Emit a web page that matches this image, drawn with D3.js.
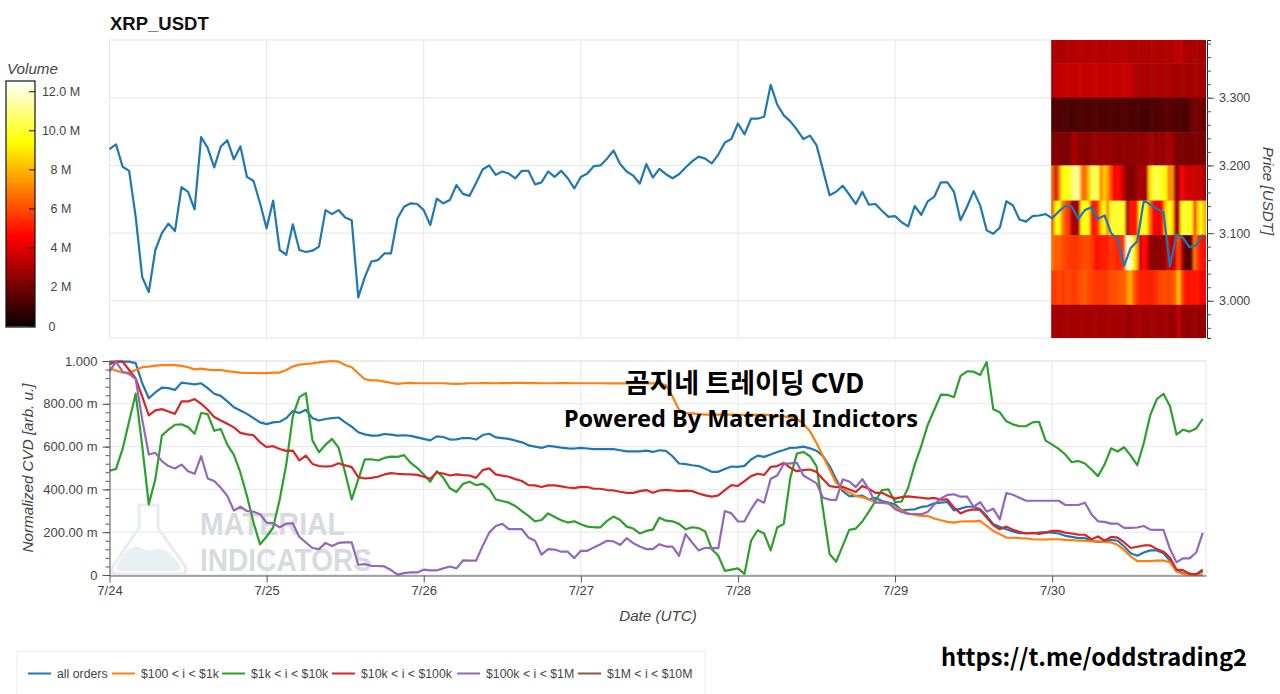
<!DOCTYPE html>
<html>
<head>
<meta charset="utf-8">
<script src="https://cdn.jsdelivr.net/npm/d3@7"></script>
<style>
  html, body { margin: 0; padding: 0; background: #fff; }
  svg { display: block; }
  text { font-family: "Liberation Sans", Arial, sans-serif; }
  .tick text { fill: #444; font-size: 12.5px; }
  .cvdAxis .tick text, .dateAxis .tick text { font-size: 13px; }
  .label { fill: #444; font-size: 15.2px; font-style: italic; }
  .banner { fill: #000; font-family: "Noto Sans CJK KR", "Noto Sans", sans-serif; font-weight: 700; }
  .bannerLatin { fill: #000; font-family: "Noto Sans", sans-serif; font-weight: 700; }
</style>
</head>
<body>
<svg id="chart" width="1280" height="694"></svg>
<script>
// --- data ---
var dayLabels = ["7/24", "7/25", "7/26", "7/27", "7/28", "7/29", "7/30"];
var priceTicks = [3.0, 3.1, 3.2, 3.3];
var cvdTicks = [0, 0.2, 0.4, 0.6, 0.8, 1.0];
var cvdTickLabels = ["0", "200.00 m", "400.00 m", "600.00 m", "800.00 m", "1.000"];
var volumeTicks = [0, 2, 4, 6, 8, 10, 12];
var volumeTickLabels = ["0", "2 M", "4 M", "6 M", "8 M", "10.0 M", "12.0 M"];
var seriesNames = ["all orders", "$100 < i < $1k", "$1k < i < $10k", "$10k < i < $100k", "$100k < i < $1M", "$1M < i < $10M"];

// hourly close, USDT
var price = [
  3.224,3.231,3.198,3.192,3.124,3.035,3.013,3.075,3.100,3.114,3.103,3.168,
  3.161,3.135,3.242,3.226,3.197,3.228,3.237,3.209,3.228,3.183,3.177,3.144,
  3.107,3.148,3.075,3.068,3.113,3.075,3.072,3.074,3.080,3.134,3.128,3.134,
  3.123,3.119,3.005,3.035,3.058,3.060,3.070,3.070,3.122,3.139,3.144,3.143,
  3.134,3.112,3.151,3.144,3.149,3.171,3.158,3.155,3.174,3.194,3.200,3.186,
  3.191,3.188,3.181,3.192,3.192,3.172,3.175,3.191,3.183,3.192,3.181,3.166,
  3.183,3.188,3.199,3.200,3.210,3.222,3.202,3.191,3.185,3.173,3.202,3.182,
  3.195,3.187,3.181,3.187,3.197,3.206,3.213,3.210,3.203,3.216,3.234,3.239,
  3.262,3.246,3.269,3.269,3.272,3.319,3.290,3.274,3.265,3.253,3.239,3.244,
  3.230,3.193,3.156,3.161,3.170,3.157,3.143,3.161,3.142,3.143,3.133,3.124,
  3.125,3.116,3.110,3.140,3.127,3.147,3.154,3.175,3.175,3.161,3.119,3.139,
  3.162,3.141,3.104,3.099,3.108,3.147,3.141,3.120,3.117,3.125,3.126,3.128,
  3.122,3.132,3.140,3.139,3.121,3.134,3.138,3.121,3.126,3.100,3.091,3.052,
  3.078,3.088,3.148,3.142,3.136,3.131,3.051,3.098,3.093,3.079,3.082,3.098
];

// normalized cvd per order size bucket
var cvdAll = [
  .997,.997,.997,.997,.990,.896,.826,.853,.876,.873,.865,.899,
  .895,.891,.896,.873,.847,.837,.811,.784,.769,.753,.733,.713,
  .705,.713,.716,.733,.766,.757,.772,.733,.722,.729,.733,.736,
  .713,.693,.667,.657,.651,.651,.659,.656,.651,.653,.650,.643,
  .636,.629,.648,.645,.633,.634,.640,.640,.633,.654,.660,.643,
  .640,.636,.628,.620,.606,.600,.594,.603,.600,.595,.592,.591,
  .594,.591,.588,.588,.588,.588,.583,.578,.578,.578,.581,.575,
  .583,.580,.555,.521,.518,.513,.509,.496,.482,.482,.495,.507,
  .505,.510,.540,.558,.552,.563,.575,.584,.594,.595,.600,.592,
  .581,.555,.509,.447,.392,.369,.369,.371,.353,.361,.346,.338,
  .330,.302,.305,.307,.318,.322,.335,.338,.341,.302,.310,.319,
  .319,.307,.276,.237,.225,.214,.203,.195,.195,.195,.198,.200,
  .198,.194,.183,.178,.172,.172,.161,.155,.155,.164,.160,.133,
  .102,.090,.105,.115,.115,.102,.067,.020,.009,.006,.003,.016
];
var cvd100to1k = [
  .966,.955,.946,.946,.958,.971,.974,.978,.981,.981,.981,.977,
  .971,.961,.964,.960,.957,.958,.953,.949,.946,.944,.944,.943,
  .943,.946,.946,.958,.974,.983,.986,.989,.994,.997,1.0,.997,
  .981,.971,.943,.915,.909,.909,.904,.898,.893,.896,.898,.896,
  .896,.896,.896,.896,.894,.893,.894,.896,.896,.897,.897,.896,
  .897,.897,.898,.898,.897,.897,.896,.896,.896,.897,.897,.896,
  .896,.896,.896,.896,.895,.895,.895,.895,.896,.896,.895,.895,
  .895,.888,.834,.772,.757,.755,.752,.749,.749,.749,.750,.749,
  .748,.748,.748,.748,.749,.746,.744,.741,.736,.729,.707,.671,
  .617,.555,.493,.431,.403,.385,.369,.364,.353,.341,.338,.332,
  .318,.301,.288,.281,.276,.276,.264,.256,.248,.245,.250,.251,
  .251,.253,.229,.206,.191,.175,.174,.172,.171,.167,.166,.166,
  .167,.167,.164,.163,.160,.160,.157,.157,.155,.152,.141,.116,
  .087,.065,.065,.065,.067,.068,.059,.016,.005,0,0,0
];
var cvd1kto10k = [
  .487,.496,.589,.718,.847,.602,.330,.447,.651,.679,.702,.704,
  .691,.660,.757,.752,.674,.682,.609,.561,.478,.369,.245,.143,
  .180,.222,.353,.516,.741,.831,.850,.629,.574,.609,.636,.594,
  .478,.353,.447,.540,.541,.535,.547,.553,.552,.560,.524,.501,
  .470,.436,.485,.454,.405,.388,.426,.436,.420,.426,.403,.353,
  .346,.338,.322,.299,.276,.251,.257,.288,.271,.256,.245,.251,
  .237,.226,.223,.223,.253,.273,.257,.226,.217,.194,.206,.212,
  .268,.254,.251,.239,.214,.223,.219,.203,.121,.090,.019,.025,
  .031,.005,.160,.209,.194,.115,.222,.239,.454,.567,.575,.555,
  .509,.307,.098,.062,.136,.211,.217,.250,.296,.346,.397,.400,
  .341,.343,.408,.516,.602,.702,.772,.843,.842,.831,.930,.952,
  .950,.935,.995,.775,.760,.718,.704,.695,.695,.713,.716,.628,
  .609,.589,.563,.527,.533,.521,.493,.462,.516,.592,.577,.597,
  .558,.513,.617,.749,.822,.847,.788,.656,.679,.670,.684,.730
];
var cvd10kto100k = [
  .985,.997,.997,.958,.919,.834,.746,.769,.775,.764,.753,.811,
  .811,.822,.800,.772,.738,.722,.707,.690,.664,.657,.653,.620,
  .598,.602,.589,.580,.581,.536,.558,.519,.509,.507,.509,.522,
  .512,.504,.457,.451,.454,.459,.470,.476,.473,.471,.470,.468,
  .459,.450,.479,.474,.465,.470,.467,.465,.454,.490,.498,.470,
  .464,.459,.448,.439,.420,.419,.411,.419,.419,.414,.409,.406,
  .412,.411,.403,.403,.397,.395,.389,.384,.384,.392,.397,.384,
  .395,.398,.395,.392,.394,.392,.381,.372,.366,.372,.397,.420,
  .416,.439,.462,.473,.468,.505,.509,.524,.501,.485,.490,.493,
  .482,.447,.416,.411,.412,.400,.388,.416,.403,.384,.384,.369,
  .357,.364,.367,.364,.361,.357,.360,.352,.353,.315,.288,.301,
  .307,.304,.268,.233,.214,.226,.211,.202,.194,.197,.192,.198,
  .206,.206,.198,.194,.189,.188,.167,.180,.160,.178,.175,.152,
  .126,.132,.138,.138,.121,.109,.082,.025,.023,.005,.003,.025
];
var cvd100kto1m = [
  .950,.997,.950,.940,.915,.726,.563,.571,.532,.509,.498,.516,
  .485,.473,.555,.451,.439,.408,.369,.301,.319,.299,.296,.284,
  .245,.242,.223,.240,.242,.178,.152,.126,.121,.150,.136,.150,
  .152,.152,.048,.051,.043,.042,.040,.023,.002,.009,.012,.012,
  .025,.022,.022,.031,.040,.031,.068,.067,.067,.136,.198,.229,
  .239,.214,.214,.214,.175,.160,.095,.121,.119,.109,.109,.079,
  .113,.113,.129,.144,.160,.157,.140,.172,.149,.133,.121,.121,
  .144,.133,.133,.090,.191,.152,.115,.127,.126,.126,.299,.288,
  .250,.251,.307,.353,.338,.450,.465,.519,.522,.524,.465,.447,
  .428,.361,.352,.350,.447,.437,.411,.448,.400,.338,.338,.338,
  .307,.295,.285,.285,.284,.295,.330,.358,.374,.377,.366,.366,
  .319,.340,.296,.310,.260,.383,.375,.361,.347,.347,.347,.347,
  .347,.347,.327,.327,.327,.338,.284,.251,.248,.240,.240,.220,
  .220,.222,.229,.212,.211,.211,.121,.059,.078,.078,.105,.197
];
var cvd1mto10m = []; // in the legend, nothing drawn

// volume profile: one row per price bin, top row first, values in millions
var binEdges = [3.385, 3.351, 3.300, 3.249, 3.200, 3.148, 3.097, 3.045, 2.994, 2.945];
var heatRow0 = [3.0,3.0,3.0,3.0,3.0,3.2,3.2,3.2,3.2,3.2,3.2,3.2,3.2,3.2,3.2,3.2,3.2,3.2,3.2,3.2,3.2,3.2,3.2,3.2,
  3.1,3.1,3.1,3.1,3.1,3.1,3.1,3.1,3.1,3.1,3.1,3.1,3.1,3.1,3.4,3.4,3.4,3.0,3.0,3.0,3.0,3.0,3.0,3.0];
var heatRow1 = [3.0,3.5,3.5,3.5,3.5,3.5,3.5,3.5,3.5,3.5,3.5,3.5,3.5,3.5,3.5,3.5,3.5,3.5,3.5,3.5,3.5,3.5,3.5,3.5,
  3.5,3.3,3.0,3.0,3.0,3.0,3.0,3.0,3.0,3.0,3.0,3.0,3.0,3.0,2.9,2.9,2.9,2.9,2.9,2.9,2.9,2.9,2.9,2.9];
var heatRow2 = [1.3,1.3,1.3,1.3,1.3,1.2,1.2,1.3,1.3,1.3,1.3,1.3,1.3,1.3,1.3,1.3,1.3,1.3,1.3,1.3,1.3,1.3,1.3,1.3,
  1.3,1.2,1.2,1.2,1.2,1.2,1.2,1.2,1.2,1.4,1.4,1.4,1.4,1.5,1.4,1.3,1.2,1.2,1.3,1.9,1.9,1.9,1.9,1.9];
var heatRow3 = [2.2,2.2,2.2,2.2,2.0,2.0,2.8,3.1,2.4,2.4,2.4,2.4,2.6,2.6,2.6,2.6,2.6,2.6,2.6,2.5,2.5,2.5,2.5,2.5,
  2.5,2.5,2.5,2.5,2.5,2.5,2.9,2.9,2.4,3.0,2.3,2.8,2.9,3.0,2.1,2.1,2.1,2.1,2.1,2.1,2.1,2.1,2.1,2.1];
var heatRow4 = [6.5,3.5,7,9.5,9.5,9.8,10.5,11.5,11,7,6.5,8,10,10.8,10,7,8.5,7.5,6,4.6,4.8,4.4,3.2,2.3,
  2.2,2.2,2.6,3,3,2.8,8.5,9.8,10.5,10,9.6,9.5,7,7.5,2.5,3,4.5,4,3.5,3.8,3.5,3.5,3.8,3];
var heatRow5 = [6.5,9.5,9.5,7,6,5.5,3,2.8,3,9.5,9.8,9.5,5,5,5.5,8.5,9.5,7,9.8,10,10,10,9.8,2.6,
  5,5,5,9.5,10,9.5,7,4.8,4.6,4.5,5,8.5,9.8,9,3,3.2,9.5,10.2,9.8,9.5,5,8.5,9.5,8];
var heatRow6 = [6.8,6.2,6.5,6,5.8,5.6,5.7,5.5,5.7,5.8,6,6,5.8,5,4.9,5.2,5.1,5.2,5.6,5.5,5.2,5.4,5.6,11.8,
  12,9.5,8,3.6,4.8,4.6,2.6,2.4,2.4,2.6,2.4,2.8,4.2,2.8,4.5,6,3.4,1.5,1.3,1.8,6.8,5.6,5,4.8];
var heatRow7 = [5.6,5.7,6,5.6,5.8,6,5.7,5.7,5.9,6.2,6.3,6,5.8,5.6,5.5,5.7,5.6,5.7,6,6.1,6.2,6.3,6.2,7,
  8,6.5,5.6,5.2,5.2,5.3,5.1,5.2,5.4,5.9,5.9,6,5.8,6.2,6.5,8.5,6,5,4.8,5,4.9,5,4.7,4.6];
var heatRow8 = [2.9,2.9,2.9,2.9,2.9,2.9,2.9,2.9,2.9,2.9,2.9,2.9,2.9,2.9,2.9,2.9,2.9,2.9,2.9,2.9,2.9,2.9,2.9,2.6,
  2.6,2.9,2.9,2.9,2.8,2.8,2.8,2.8,2.8,2.8,2.8,2.8,2.7,2.6,2.7,3.6,2.6,2.6,2.6,2.6,2.6,2.6,2.6,2.6];

// --- drawing ---
var svg = d3.select("#chart");
var colors = ["#1f77b4", "#ff7f0e", "#2ca02c", "#d62728", "#9467bd", "#8c564b"];
var gridColor = "#e6e6e6";
var axisColor = "#555";
var lineWidth = 2.2;

var left = 109.5, right = 1206;
var topPanel = {y0: 40, y1: 338};
var botPanel = {y0: 361, y1: 575};

var t0 = Date.UTC(2025, 6, 24);
var hour = 3600 * 1000;
function hourDate(i) { return new Date(t0 + i * hour); }
var dayDates = dayLabels.map(function(d, i) { return hourDate(i * 24); });

var x = d3.scaleUtc().domain([hourDate(0), hourDate(167.5)]).range([left, right]);
var yPrice = d3.scaleLinear().domain([2.945, 3.3853]).range([topPanel.y1, topPanel.y0]);
var yCvd = d3.scaleLinear().domain([0, 1]).range([botPanel.y1, botPanel.y0]);

// matplotlib "hot", stops as seen on the colour bar
var volumeMax = 12.55;
var hot = d3.scaleLinear()
  .domain([0, 0.365 * volumeMax, 0.75 * volumeMax, volumeMax])
  .range(["#0a0000", "#ff0000", "#ffff00", "#ffffff"])
  .clamp(true);

// panel backgrounds: outline + grid
function drawGrid(panel, y, ticks) {
  var g = svg.append("g");
  g.append("rect")
    .attr("x", left).attr("y", panel.y0)
    .attr("width", right - left).attr("height", panel.y1 - panel.y0)
    .attr("fill", "none").attr("stroke", gridColor);
  g.selectAll(".v").data(dayDates).enter().append("line")
    .attr("x1", x).attr("x2", x)
    .attr("y1", panel.y0).attr("y2", panel.y1)
    .attr("stroke", gridColor);
  g.selectAll(".h").data(ticks).enter().append("line")
    .attr("x1", left).attr("x2", right)
    .attr("y1", y).attr("y2", y)
    .attr("stroke", gridColor);
}
drawGrid(topPanel, yPrice, priceTicks);
drawGrid(botPanel, yCvd, cvdTicks);

// material indicators watermark
var mark = svg.append("g");
mark.append("path")
  .attr("d", "M139,505 L158,505 L158,528 L185,566 Q188,574 180,574 L118,574 Q110,574 113,566 L139,528 Z")
  .attr("fill", "none").attr("stroke", "#e9ecee").attr("stroke-width", 3);
mark.append("path")
  .attr("d", "M116,568 Q124,549 136,546 Q147,552 158,549 Q170,548 181,568 Q181,571 176,571 L120,571 Q116,571 116,568 Z")
  .attr("fill", "#e8f0f1");
mark.selectAll("text").data(["MATERIAL", "INDICATORS"]).enter().append("text")
  .attr("x", 200)
  .attr("y", function(d, i) { return i ? 571 : 535; })
  .attr("textLength", function(d, i) { return i ? 172 : 145; })
  .attr("lengthAdjust", "spacingAndGlyphs")
  .attr("font-size", 32)
  .attr("font-weight", 700)
  .attr("fill", "#d7dbe0")
  .text(function(d) { return d; });

// volume heatmap over the last day, softened a little like the source image
var heatLeft = x(hourDate(143.85));
var defs = svg.append("defs");
defs.append("filter").attr("id", "soft")
  .attr("x", "-2%").attr("y", "-2%").attr("width", "104%").attr("height", "104%")
  .append("feGaussianBlur").attr("stdDeviation", "0.8 0.4");
defs.append("clipPath").attr("id", "heatClip").append("rect")
  .attr("x", heatLeft).attr("y", topPanel.y0)
  .attr("width", right - heatLeft).attr("height", topPanel.y1 - topPanel.y0);
var heatRows = [heatRow0, heatRow1, heatRow2, heatRow3, heatRow4, heatRow5, heatRow6, heatRow7, heatRow8];
// one column wider on each side so the blur doesn't fade at the clip edge
var heatX = d3.scaleBand()
  .domain(d3.range(heatRow0.length))
  .range([heatLeft, right]);
var heatG = svg.append("g").attr("clip-path", "url(#heatClip)")
  .append("g").attr("filter", "url(#soft)");
heatRows.forEach(function(row, r) {
  heatG.selectAll(".r" + r).data(row).enter().append("rect")
    .attr("x", function(d, i) { return i == 0 ? heatX(i) - 4 : heatX(i); })
    .attr("width", function(d, i) {
      return heatX.bandwidth() + 0.5 + (i == 0 || i == row.length - 1 ? 4 : 0);
    })
    .attr("y", yPrice(binEdges[r]) - (r == 0 ? 4 : 0))
    .attr("height", yPrice(binEdges[r + 1]) - yPrice(binEdges[r]) + 0.5 + (r == 0 || r == heatRows.length - 1 ? 4 : 0))
    .attr("fill", function(d) { return hot(d); });
});

// price line
var priceLine = d3.line()
  .x(function(d, i) { return x(hourDate(i)); })
  .y(function(d) { return yPrice(d); });
svg.append("path").datum(price)
  .attr("d", priceLine)
  .attr("fill", "none").attr("stroke", colors[0]).attr("stroke-width", lineWidth).attr("stroke-linejoin", "round");

// cvd lines
var cvdSeries = [cvdAll, cvd100to1k, cvd1kto10k, cvd10kto100k, cvd100kto1m, cvd1mto10m];
var cvdLine = d3.line()
  .x(function(d, i) { return x(hourDate(i)); })
  .y(function(d) { return yCvd(d); });
cvdSeries.forEach(function(s, i) {
  svg.append("path").datum(s)
    .attr("d", cvdLine)
    .attr("fill", "none").attr("stroke", colors[i]).attr("stroke-width", lineWidth).attr("stroke-linejoin", "round");
});

// axes
function styleAxis(g) {
  g.selectAll("line").attr("stroke", axisColor);
  g.select(".domain").attr("stroke", axisColor);
}

// price axis, right side
svg.append("g")
  .attr("transform", "translate(1207,0)")
  .call(d3.axisRight(yPrice).tickValues(d3.range(2.96, 3.39, 0.02)).tickSize(4).tickFormat(""))
  .call(styleAxis)
  .select(".domain").attr("stroke", "#222");
svg.append("g")
  .attr("transform", "translate(1207,0)")
  .call(d3.axisRight(yPrice).tickValues(priceTicks).tickSize(7).tickPadding(5).tickSizeOuter(0).tickFormat(d3.format(".3f")))
  .call(styleAxis)
  .select(".domain").remove();

// cvd axis, left side
svg.append("g")
  .attr("transform", "translate(" + left + ",0)")
  .call(d3.axisLeft(yCvd).tickValues(d3.range(0, 1.01, 0.04)).tickSize(4).tickFormat(""))
  .call(styleAxis);
svg.append("g")
  .attr("class", "cvdAxis")
  .attr("transform", "translate(" + left + ",0)")
  .call(d3.axisLeft(yCvd).tickValues(cvdTicks).tickSize(7).tickPadding(5)
    .tickFormat(function(d, i) { return cvdTickLabels[i]; }))
  .call(styleAxis)
  .select(".domain").remove();

// date axis
svg.append("g")
  .attr("class", "dateAxis")
  .attr("transform", "translate(0," + (botPanel.y1 + 0.5) + ")")
  .call(d3.axisBottom(x).tickValues(dayDates).tickSize(7).tickPadding(3).tickSizeOuter(0)
    .tickFormat(function(d, i) { return dayLabels[i]; }))
  .call(styleAxis);

// axis labels and title
svg.append("text").attr("x", 110).attr("y", 30)
  .attr("font-size", 18.5).attr("font-weight", 700).attr("fill", "#111").text("XRP_USDT");
svg.append("text").attr("class", "label").attr("text-anchor", "middle")
  .attr("transform", "translate(33,468) rotate(-90)").text("Normalized CVD [arb. u.]");
svg.append("text").attr("class", "label").attr("text-anchor", "middle")
  .attr("x", 658).attr("y", 621).text("Date (UTC)");
svg.append("text").attr("class", "label").attr("text-anchor", "middle")
  .attr("transform", "translate(1263,191) rotate(90)").text("Price [USDT]");

// colour bar
var barX = 6, barW = 29, barY0 = 81, barY1 = 327;
var yVol = d3.scaleLinear().domain([-0.05, volumeMax]).range([barY1, barY0]);
var bar = svg.append("g");
bar.selectAll("rect").data(d3.range(0, volumeMax, 0.04)).enter().append("rect")
  .attr("x", barX).attr("width", barW)
  .attr("y", function(d) { return yVol(d) - 1; }).attr("height", 1.5)
  .attr("fill", function(d) { return hot(d); });
bar.append("rect")
  .attr("x", barX).attr("y", barY0).attr("width", barW).attr("height", barY1 - barY0)
  .attr("fill", "none").attr("stroke", "#111").attr("stroke-width", 1.2);
bar.selectAll(".vt").data(volumeTicks).enter().append("line")
  .attr("x1", barX + barW - 6).attr("x2", barX + barW)
  .attr("y1", yVol).attr("y2", yVol)
  .attr("stroke", "#111");
bar.selectAll(".vl").data(volumeTickLabels).enter().append("text")
  .attr("x", function(d) { return d == "0" ? 52 : 61; })
  .attr("y", function(d, i) { return yVol(volumeTicks[i]) + 4.5; })
  .attr("text-anchor", "middle")
  .attr("font-size", 12.5).attr("fill", "#444")
  .text(function(d) { return d; });
svg.append("text").attr("class", "label").attr("x", 7).attr("y", 74).text("Volume");

// legend
var legendLineX = [28, 112, 222, 332, 457, 578];
var legend = svg.append("g");
legend.append("rect")
  .attr("x", 17).attr("y", 651.5).attr("width", 688).attr("height", 50)
  .attr("fill", "#fff").attr("stroke", "#eee");
seriesNames.forEach(function(name, i) {
  legend.append("line")
    .attr("x1", legendLineX[i]).attr("x2", legendLineX[i] + 23)
    .attr("y1", 673.5).attr("y2", 673.5)
    .attr("stroke", colors[i]).attr("stroke-width", 2);
  legend.append("text")
    .attr("x", legendLineX[i] + 29).attr("y", 678)
    .attr("font-size", 12.3).attr("fill", "#444")
    .text(name);
});

// pasted-on captions
svg.append("text").attr("class", "banner").attr("text-anchor", "middle")
  .attr("x", 744.5).attr("y", 393).attr("font-size", 27).text("곰지네 트레이딩 CVD");
svg.append("text").attr("class", "bannerLatin")
  .attr("x", 564).attr("y", 427).attr("font-size", 24)
  .attr("textLength", 354).attr("lengthAdjust", "spacingAndGlyphs")
  .text("Powered By Material Indictors");
svg.append("text").attr("class", "banner")
  .attr("x", 941).attr("y", 666).attr("font-size", 23.7).text("https://t.me/oddstrading2");
</script>
</body>
</html>
